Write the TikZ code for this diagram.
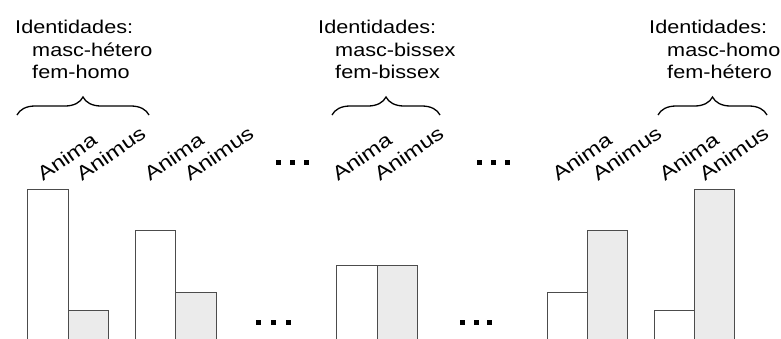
\documentclass[tikz,border=0pt]{standalone}
\usepackage{fontspec}
\setmainfont{Liberation Sans}
\usetikzlibrary{decorations.pathreplacing}

\tikzset{
  rotulo/.style={rotate=35, xscale=1.22, transform shape, anchor=base west, inner sep=0pt, font=\fontsize{19.5}{22}\selectfont},
  ident/.style={xscale=1.17, transform shape, anchor=base west, inner sep=0pt, font=\fontsize{18.5}{22}\selectfont},
  barraanima/.style={draw=black!70, line width=1pt, fill=white},
  barraanimus/.style={draw=black!70, line width=1pt, fill=black!8},
  chave/.style={decorate, decoration={brace, amplitude=18pt}, line width=1.3pt},
  ponto/.style={fill=black}
}

\begin{document}
\begin{tikzpicture}[x=1pt,y=-1pt]
    \useasboundingbox (0,0) rectangle (781,338);
    % barras
    \draw[barraanima] (27,345) rectangle (68,189);
    \draw[barraanimus] (68,345) rectangle (108,310);
    \draw[barraanima] (135,345) rectangle (175,230);
    \draw[barraanimus] (175,345) rectangle (216,292);
    \draw[barraanima] (336,345) rectangle (377,265);
    \draw[barraanimus] (377,345) rectangle (417,265);
    \draw[barraanima] (547,345) rectangle (587,292);
    \draw[barraanimus] (587,345) rectangle (627,230);
    \draw[barraanima] (654,345) rectangle (694,310);
    \draw[barraanimus] (694,345) rectangle (734,189);
    % rotulos
    \node[rotulo] (an1) at (43,182) {Anima};
    \node[rotulo] (as1) at (82,182) {Animus};
    \node[rotulo] (an2) at (150,182) {Anima};
    \node[rotulo] (as2) at (190,182) {Animus};
    \node[rotulo] (an3) at (338,182) {Anima};
    \node[rotulo] (as3) at (380,182) {Animus};
    \node[rotulo] (an4) at (558,182) {Anima};
    \node[rotulo] (as4) at (598,182) {Animus};
    \node[rotulo] (an5) at (665,182) {Anima};
    \node[rotulo] (as5) at (705,182) {Animus};
    % identidades
    \node[ident] (id1) at (15,33) {Identidades:};
    \node[ident] (m1) at (32,56) {masc-hétero};
    \node[ident] (f1) at (32,78) {fem-homo};
    \node[ident] (id2) at (318,33) {Identidades:};
    \node[ident] (m2) at (335,56) {masc-bissex};
    \node[ident] (f2) at (335,78) {fem-bissex};
    \node[ident] (id3) at (649,33) {Identidades:};
    \node[ident] (m3) at (667,56) {masc-homo};
    \node[ident] (f3) at (667,78) {fem-hétero};
    % chaves
    \draw[chave] (17,115) -- (149,115);
    \draw[chave] (332,115) -- (440,115);
    \draw[chave] (658,115) -- (767,115);
    % reticencias
    \foreach \x in {278,292,306,479,493,507}
        \fill[ponto] (\x-2.5,159.5) rectangle (\x+2.5,164.5);
    \foreach \x in {258,273,288,462,476,489}
        \fill[ponto] (\x-2.5,319.5) rectangle (\x+2.5,324.5);
\end{tikzpicture}
\end{document}
